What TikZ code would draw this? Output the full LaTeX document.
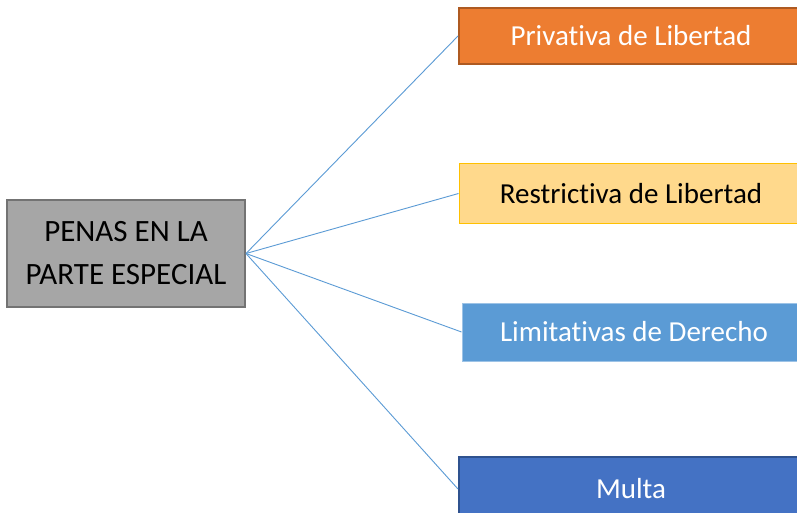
\documentclass[tikz,border=0pt]{standalone}
\usepackage{fontspec}
\setmainfont{Carlito}[Ligatures=NoCommon]
\definecolor{penagray}{HTML}{A6A6A6}
\definecolor{penagrayline}{HTML}{737373}
\definecolor{privorange}{HTML}{ED7D31}
\definecolor{privline}{HTML}{AE5A21}
\definecolor{restyellow}{HTML}{FFD98C}
\definecolor{restline}{HTML}{FFC000}
\definecolor{limblue}{HTML}{5B9BD5}
\definecolor{limline}{HTML}{9DC3E6}
\definecolor{multablue}{HTML}{4472C4}
\definecolor{multaline}{HTML}{2F528F}
\definecolor{linkblue}{HTML}{5B9BD5}
\tikzset{
  pena/.style={draw, rectangle, inner sep=0pt, minimum width=344pt,
    minimum height=56pt, font=\fontsize{29}{35}\selectfont},
  root/.style={draw=penagrayline, fill=penagray, line width=2pt,
    rectangle, inner sep=0pt, minimum width=238pt, minimum height=107pt,
    align=center, font=\fontsize{31}{43}\selectfont},
  link/.style={draw=linkblue, line width=0.9pt}
}
\begin{document}
\begin{tikzpicture}[x=1pt,y=-1pt]
      \clip (0,0) rectangle (797,513);
      \fill[white] (0,0) rectangle (797,513);
      \node[root] (penas) at (126,253.5) {PENAS EN LA\\PARTE ESPECIAL};
      \node[pena, fill=privorange, draw=privline, line width=2pt, text=white]
        (privativa) at (631,36) {Privativa de Libertad};
      \node[pena, fill=restyellow, draw=restline, line width=1pt, minimum height=59pt]
        (restrictiva) at (631,193.5) {Restrictiva de Libertad};
      \node[pena, fill=limblue, draw=limline, line width=1pt, minimum height=58pt, text=white]
        (limitativas) at (634,332) {Limitativas de Derecho};
      \node[pena, fill=multablue, draw=multaline, line width=2pt, minimum height=64pt, text=white]
        (multa) at (631,489) {Multa};
      \begin{scope}[link]
        \draw (penas.east) to (privativa.west);
        \draw (penas.east) to (restrictiva.west);
        \draw (penas.east) to (limitativas.west);
        \draw (penas.east) to (multa.west);
      \end{scope}
    \end{tikzpicture}
\end{document}
